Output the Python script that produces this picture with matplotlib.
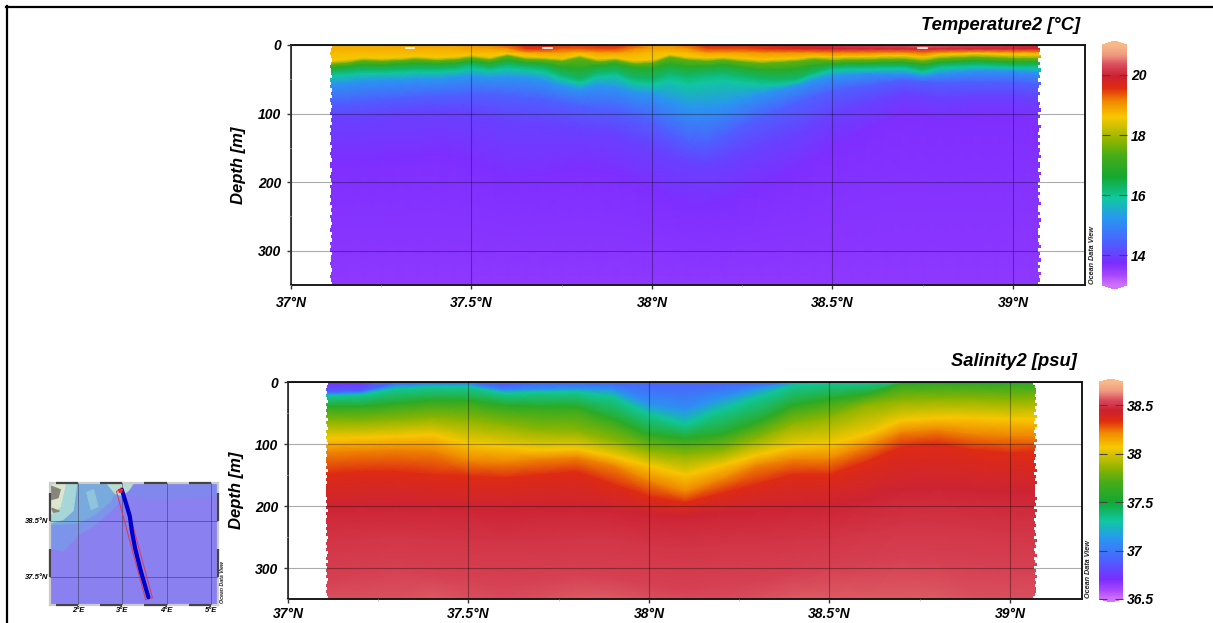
import numpy as np
import matplotlib
matplotlib.use("Agg")
import matplotlib.pyplot as plt
from matplotlib.colors import LinearSegmentedColormap, Normalize
from matplotlib.cm import ScalarMappable
from matplotlib.lines import Line2D
from matplotlib.patches import Polygon

plt.rcParams['font.family'] = ['Liberation Sans', 'DejaVu Sans']
plt.rcParams['font.weight'] = 'bold'
plt.rcParams['font.style'] = 'italic'

W, H = 1213, 623

# temperature section
temp_lats = [37.09, 37.15, 37.2, 37.25, 37.3, 37.35, 37.4, 37.45, 37.5, 37.55, 37.6, 37.65, 37.7, 37.75,
             37.8, 37.85, 37.9, 37.95, 38.0, 38.05, 38.1, 38.15, 38.2, 38.25, 38.3, 38.35, 38.4, 38.45,
             38.5, 38.55, 38.6, 38.65, 38.7, 38.75, 38.8, 38.85, 38.9, 38.95, 39.0, 39.05, 39.1]
temp_0m = [18.8, 18.8, 18.8, 18.8, 18.9, 18.9, 18.9, 18.9, 19.0, 19.1, 19.4, 19.7, 19.8, 19.6,
           19.5, 19.6, 19.7, 19.4, 19.0, 19.0, 19.3, 19.8, 19.8, 19.7, 19.7, 19.8, 19.9, 20.0,
           20.1, 20.2, 20.2, 20.3, 20.3, 20.5, 20.4, 20.3, 20.2, 20.2, 20.1, 20.0, 20.0]
temp_6m = [18.8, 18.8, 18.8, 18.8, 18.8, 18.8, 18.8, 18.8, 18.9, 18.9, 19.0, 19.5, 19.5, 19.3,
           19.3, 19.4, 19.4, 19.1, 18.9, 18.9, 19.0, 19.4, 19.4, 19.4, 19.5, 19.6, 19.7, 19.8,
           19.9, 20.0, 20.0, 20.0, 20.0, 20.0, 20.0, 20.0, 20.0, 20.0, 20.0, 19.9, 19.9]
temp_12m = [18.7, 18.7, 18.7, 18.7, 18.7, 18.7, 18.7, 18.7, 18.7, 18.7, 18.65, 18.8, 18.9, 18.9,
            18.7, 18.9, 18.9, 18.8, 18.7, 18.65, 18.7, 18.9, 18.9, 18.9, 19.0, 19.0, 19.0, 19.0,
            19.1, 19.1, 19.1, 19.0, 19.0, 19.2, 18.9, 18.8, 18.7, 18.75, 18.8, 18.8, 18.8]
temp_350m = 13.55
# depth of each isotherm along the section
temp_levels = [18.6, 17.5, 16.9, 16.2, 15.9, 15.2, 14.4, 14.0, 13.7]
iso_186 = [25, 22, 19, 20, 19, 17, 19, 18, 15, 18, 13, 17, 18, 20, 15, 20, 19, 23, 22, 14, 18,
           19, 18, 20, 22, 21, 20, 17, 18, 17, 17, 16, 16, 18, 15, 14, 13, 14, 15, 15, 15]
iso_175 = [29, 27, 23, 24, 23, 21, 23, 22, 19, 22, 16, 21, 22, 24, 19, 25, 23, 28, 27, 18, 22,
           24, 22, 25, 27, 26, 24, 21, 23, 22, 22, 21, 21, 24, 20, 19, 18, 19, 20, 20, 20]
iso_169 = [34, 32, 29, 30, 28, 27, 28, 27, 24, 27, 22, 26, 27, 32, 34, 30, 28, 33, 34, 28, 32,
           31, 29, 33, 36, 37, 35, 30, 28, 27, 27, 26, 26, 29, 25, 24, 23, 24, 25, 25, 25]
iso_162 = [41, 39, 37, 37, 36, 35, 35, 34, 29, 34, 29, 32, 34, 44, 51, 41, 39, 49, 51, 42, 47,
           43, 42, 46, 50, 52, 50, 40, 33, 32, 32, 31, 31, 36, 30, 29, 28, 29, 30, 30, 30]
iso_159 = [46, 44, 42, 42, 41, 40, 40, 39, 35, 38, 35, 37, 40, 50, 56, 47, 46, 56, 58, 52, 58,
           54, 52, 55, 58, 58, 54, 44, 37, 36, 36, 35, 35, 40, 34, 33, 32, 33, 34, 34, 34]
iso_152 = [58, 56, 53, 52, 52, 50, 50, 48, 46, 48, 47, 48, 52, 60, 65, 60, 62, 70, 72, 82, 92,
           92, 88, 80, 72, 66, 60, 52, 46, 44, 42, 42, 42, 46, 42, 40, 38, 38, 38, 40, 42]
iso_144 = [85, 84, 82, 80, 78, 76, 75, 74, 72, 73, 75, 78, 80, 85, 90, 93, 95, 102, 112, 128, 142,
           145, 132, 118, 105, 95, 85, 76, 68, 63, 60, 55, 52, 54, 55, 55, 55, 55, 55, 57, 60]
iso_140 = [105, 105, 105, 103, 100, 99, 98, 98, 100, 105, 110, 113, 115, 118, 122, 125, 130, 140, 150, 162, 172,
           175, 170, 160, 150, 140, 130, 115, 100, 92, 85, 77, 70, 74, 78, 76, 75, 75, 75, 78, 80]
iso_137 = [170, 170, 170, 168, 165, 162, 160, 165, 170, 182, 195, 192, 190, 185, 180, 185, 190, 200, 215, 225, 235,
           235, 230, 218, 205, 195, 185, 168, 150, 138, 125, 112, 100, 105, 110, 108, 105, 105, 105, 108, 110]

# salinity section
sal_lats = [37.09, 37.2, 37.3, 37.4, 37.5, 37.6, 37.7, 37.8, 37.9, 38.0, 38.1,
            38.2, 38.3, 38.4, 38.5, 38.6, 38.7, 38.8, 38.9, 39.0, 39.1]
sal_0m = [36.7, 36.7, 37.2, 37.35, 37.4, 36.85, 37.1, 37.1, 37.1, 37.0, 36.95,
          37.05, 37.25, 37.5, 37.55, 37.65, 37.75, 37.75, 37.7, 37.7, 37.75]
sal_350m = [38.56, 38.56, 38.56, 38.57, 38.56, 38.55, 38.56, 38.57, 38.57, 38.56, 38.55,
            38.55, 38.56, 38.57, 38.57, 38.57, 38.57, 38.57, 38.56, 38.56, 38.56]
sal_levels = [36.9, 37.1, 37.32, 37.6, 37.85, 38.07, 38.22, 38.35, 38.46, 38.50, 38.53]
hal_369 = [16, 15, 0, 0, 0, 6, 0, 0, 0, 0, 0, 0, 0, 0, 0, 0, 0, 0, 0, 0, 0]
hal_371 = [20, 18, 6, 4, 4, 14, 12, 10, 12, 35, 45, 25, 10, 0, 0, 0, 0, 0, 0, 0, 0]
hal_3732 = [23, 21, 11, 8, 8, 18, 16, 16, 24, 52, 68, 45, 25, 5, 0, 0, 0, 0, 0, 0, 0]
hal_376 = [40, 40, 35, 30, 30, 38, 40, 40, 60, 85, 92, 85, 65, 38, 28, 20, 3, 2, 2, 2, 2]
hal_3785 = [65, 65, 62, 58, 62, 70, 78, 80, 95, 112, 118, 112, 92, 68, 58, 38, 30, 28, 28, 30, 28]
hal_3807 = [92, 90, 88, 85, 100, 105, 110, 108, 120, 135, 150, 135, 118, 105, 100, 85, 62, 58, 58, 60, 60]
hal_3822 = [115, 112, 110, 112, 128, 130, 125, 122, 135, 160, 178, 158, 135, 125, 125, 105, 82, 78, 85, 88, 88]
hal_3835 = [150, 145, 145, 150, 152, 155, 150, 145, 165, 185, 195, 180, 165, 150, 150, 130, 105, 100, 110, 115, 112]
hal_3846 = [205, 202, 200, 202, 205, 208, 205, 205, 208, 215, 218, 212, 208, 205, 200, 190, 175, 170, 175, 178, 178]
hal_3850 = [260, 255, 250, 255, 258, 262, 260, 255, 255, 265, 270, 265, 262, 258, 255, 245, 235, 235, 240, 245, 245]
hal_3853 = [320, 310, 300, 310, 315, 320, 315, 310, 315, 325, 335, 325, 320, 310, 300, 295, 285, 290, 295, 300, 300]

# ragged ends of the sections
left_t = [37.113, 37.11, 37.107, 37.11, 37.113, 37.112, 37.108, 37.112, 37.11, 37.114, 37.109, 37.112,
          37.108, 37.113, 37.11, 37.113, 37.107, 37.112, 37.114, 37.11, 37.108, 37.113, 37.11, 37.113,
          37.109, 37.112, 37.107, 37.112, 37.11, 37.108, 37.113, 37.11, 37.107, 37.112, 37.113, 37.108]
right_t = [39.068, 39.075, 39.073, 39.077, 39.07, 39.075, 39.069, 39.077, 39.071, 39.074, 39.069, 39.077,
           39.072, 39.068, 39.076, 39.07, 39.068, 39.075, 39.071, 39.077, 39.069, 39.074, 39.07, 39.068,
           39.077, 39.072, 39.069, 39.075, 39.07, 39.076, 39.069, 39.074, 39.071, 39.077, 39.07, 39.075]
left_s = [37.11, 37.108, 37.105, 37.109, 37.104, 37.108, 37.11, 37.105, 37.109, 37.104, 37.108, 37.106,
          37.11, 37.104, 37.108, 37.11, 37.105, 37.109, 37.104, 37.107, 37.11, 37.105, 37.108, 37.104,
          37.109, 37.106, 37.104, 37.108, 37.105, 37.11, 37.104, 37.107, 37.104, 37.108, 37.105, 37.106]
right_s = [39.064, 39.07, 39.073, 39.071, 39.068, 39.073, 39.069, 39.074, 39.07, 39.073, 39.067, 39.074,
           39.07, 39.066, 39.074, 39.069, 39.066, 39.072, 39.068, 39.074, 39.067, 39.071, 39.068, 39.066,
           39.073, 39.07, 39.066, 39.072, 39.068, 39.074, 39.067, 39.072, 39.069, 39.074, 39.068, 39.07]

gap_lats = [37.33, 37.71, 38.75]
gap_depth = 4

temp_ticks = [14, 16, 18, 20]
sal_ticks = [36.5, 37, 37.5, 38, 38.5]
sal_labels = ['36.5', '37', '37.5', '38', '38.5']

# small map
map_lons = [2, 3, 4, 5]
map_lats = [37.5, 38.5]
deep_top = ([3.06, 3.6, 5.17, 5.17, 3.25], [38.99, 38.88, 38.95, 39.17, 39.17])
shelf_1 = ([1.37, 1.67, 2.0, 2.38, 2.80, 3.06, 3.25, 1.37], [38.01, 37.96, 38.25, 38.43, 38.72, 38.99, 39.17, 39.17])
shelf_2 = ([1.37, 2.0, 2.38, 2.72, 2.87, 2.96, 1.37], [38.43, 38.46, 38.61, 38.84, 39.05, 39.17, 39.17])
shelf_3 = ([1.37, 1.66, 1.89, 1.93, 1.97, 1.37], [38.46, 38.52, 38.68, 38.91, 39.17, 39.17])
shelf_4 = ([2.2, 2.3, 2.45, 2.35], [39.0, 38.7, 38.75, 39.05])
shelf_5 = ([2.65, 2.85, 3.0, 3.15, 3.25], [39.17, 38.98, 38.95, 39.05, 39.17])
shelf_6 = ([1.37, 1.6, 1.72, 1.37], [38.6, 38.75, 39.17, 39.17])
land_1 = ([1.37, 1.6, 1.55, 1.37], [39.12, 39.05, 38.91, 38.87])
land_2 = ([1.41, 1.58, 1.45], [38.72, 38.67, 38.65])
track_lon = [2.99, 3.08, 3.17, 3.22, 3.29, 3.42, 3.59]
track_lat = [39.05, 38.82, 38.58, 38.30, 38.01, 37.60, 37.14]
box_lon = [2.87, 3.01, 3.68, 3.53, 2.87]
box_lat = [39.02, 39.08, 37.13, 37.09, 39.02]

cmap_points = [(0.0, '#d070ff'), (0.04, '#a848ff'), (0.09, '#7a2cff'), (0.18, '#4c62ff'),
               (0.28, '#2898f0'), (0.36, '#10c8a0'), (0.40, '#10b870'), (0.45, '#14a830'),
               (0.54, '#48ac18'), (0.60, '#8cb400'), (0.70, '#f8c800'), (0.765, '#f08a00'),
               (0.82, '#e02c10'), (0.87, '#cc2030'), (0.917, '#d84a5c'), (0.96, '#ee9a80'),
               (1.0, '#f8b888')]
odv = LinearSegmentedColormap.from_list('odv', cmap_points, N=512)
odv.set_under('#d070ff')
odv.set_over('#f8b888')

fig = plt.figure(figsize=(W / 100, H / 100), dpi=100)


def px_axes(left, top, right, bottom):
    return fig.add_axes([left / W, 1 - bottom / H, (right - left) / W, (bottom - top) / H])


def section(box, cbox, ext, lats, rows_y, rows_c, norm, ticks, labels, title, title_xy, label_x, odv_xy,
            left, right, pad):
    ax = px_axes(*box)
    X = np.tile(lats, (len(rows_y), 1))
    mesh = ax.pcolormesh(X, np.array(rows_y, float), np.array(rows_c, float), cmap=odv, norm=norm,
                         shading='gouraud', zorder=1)
    # edges repeated back up the section so the steps stay small
    xl = left + left[::-1]
    xr = right + right[::-1]
    step = 350 / len(xl)
    ys = [v for i in range(len(xl)) for v in (i * step, (i + 1) * step)]
    xl = [v for v in xl for _ in (0, 1)]
    xr = [v for v in xr for _ in (0, 1)]
    clip = Polygon(list(zip(xl + xr[::-1], ys + ys[::-1])), transform=ax.transData)
    mesh.set_clip_path(clip)
    ax.set_xlim(37, 37 + (box[2] - box[0]) / 361)
    ax.set_ylim(350, 0)
    ax.set_xticks([37, 37.5, 38, 38.5, 39])
    ax.set_xticklabels(['37°N', '37.5°N', '38°N', '38.5°N', '39°N'], fontsize=10)
    ax.set_xticks([37.25, 37.75, 38.25, 38.75], minor=True)
    ax.set_yticks([0, 100, 200, 300])
    ax.set_yticks([50, 150, 250, 350], minor=True)
    ax.tick_params(axis='y', labelsize=10, length=3, width=1, pad=4, color='#333333')
    ax.tick_params(axis='x', length=3, width=1, pad=pad, color='#333333')
    ax.tick_params(which='minor', length=1.5, width=0.5, color='#bbbbbb')
    ax.grid(True, color='black', alpha=0.33, lw=0.8, zorder=2)
    ax.set_axisbelow(False)
    for s in ax.spines.values():
        s.set_linewidth(1.4)
        s.set_color('#1a1a1a')
    ax.spines['left'].set_color('#444444')

    fig.text(title_xy[0] / W, 1 - title_xy[1] / H, title, ha='right', va='center', fontsize=13.2)
    fig.text(label_x / W, 1 - (box[1] + box[3]) / 2 / H, 'Depth [m]', rotation=90,
             ha='center', va='center', fontsize=12)
    fig.text(odv_xy[0] / W, 1 - odv_xy[1] / H, 'Ocean Data View', rotation=90, ha='center',
             va='bottom', fontsize=5.2, color='#222222')

    cax = px_axes(*cbox)
    cb = fig.colorbar(ScalarMappable(norm=norm, cmap=odv), cax=cax, extend='both', extendfrac=ext,
                      drawedges=False)
    cb.outline.set_visible(False)
    cb.set_ticks(ticks)
    cb.set_ticklabels(labels)
    cb.ax.tick_params(direction='in', left=True, right=True, length=5.5, width=0.8,
                      color='#444444', labelsize=10, pad=3)
    cb.ax.minorticks_off()
    return ax


n_t = len(temp_lats)
temp_y = [[0] * n_t, [6] * n_t, [12] * n_t, iso_186, iso_175, iso_169, iso_162, iso_159, iso_152, iso_144,
          iso_140, iso_137, [350] * n_t]
temp_c = [temp_0m, temp_6m, temp_12m] + [[v] * n_t for v in temp_levels] + [[temp_350m] * n_t]
ax_t = section((291, 45, 1085, 285), (1102, 41, 1127, 289), 4 / 240, temp_lats, temp_y, temp_c,
               Normalize(13, 21), temp_ticks, [str(t) for t in temp_ticks], 'Temperature2 [°C]',
               (1080, 25), 238, (1093, 284), left_t, right_t, 5)
for g in gap_lats:
    ax_t.plot([g - 0.012, g + 0.012], [gap_depth, gap_depth], color='white', lw=1.2, zorder=3)

n_s = len(sal_lats)
sal_y = [[0] * n_s, hal_369, hal_371, hal_3732, hal_376, hal_3785, hal_3807, hal_3822, hal_3835, hal_3846,
         hal_3850, hal_3853, [350] * n_s]
sal_c = [sal_0m] + [[v] * n_s for v in sal_levels] + [sal_350m]
section((288, 382, 1082, 599), (1099, 379, 1123, 602), 3 / 217, sal_lats, sal_y, sal_c,
        Normalize(36.5, 38.74), sal_ticks, sal_labels, 'Salinity2 [psu]', (1077, 362), 237, (1089, 598),
        left_s, right_s, 3)

# small map
m = px_axes(50, 483, 218, 605)
m.set_facecolor('#8b80f0')
m.fill(*deep_top, color='#8088ee', zorder=0.9)
m.fill(*shelf_1, color='#7c95ea', zorder=1)
m.fill(*shelf_2, color='#78aade', zorder=1.1)
m.fill(*shelf_3, color='#a6d6d8', zorder=1.2)
m.fill(*shelf_4, color='#90c4dc', zorder=1.2)
m.fill(*shelf_5, color='#b8dcd0', zorder=1.2)
m.fill(*shelf_6, color='#dce6cc', zorder=1.3)
m.fill(*land_1, color='#85857c', zorder=1.4)
m.fill(*land_2, color='#85857c', zorder=1.4)
m.set_xlim(1.37, 5.16)
m.set_ylim(37.0, 39.17)
m.set_xticks(map_lons)
m.set_xticklabels(['%d°E' % v for v in map_lons], fontsize=5.5)
m.set_yticks(map_lats)
m.set_yticklabels(['%.1f°N' % v for v in map_lats], fontsize=5.5)
m.tick_params(length=0, pad=1.5)
m.grid(True, color='#333344', lw=0.6, alpha=0.6, zorder=2)
m.set_axisbelow(False)
m.plot(box_lon, box_lat, color='#e03848', lw=0.7, zorder=3)
m.plot(track_lon, track_lat, color='#0000cc', lw=3, solid_capstyle='round', zorder=4)
m.scatter([2.94], [39.05], s=10, color='#f02030', marker='*', zorder=5)
for s in m.spines.values():
    s.set_linewidth(1.6)
    s.set_color('#cccccc')
edge = dict(color='#444444', lw=1.6, clip_on=False, zorder=6, solid_capstyle='butt')
for a, b in [(1.5, 2), (2.5, 3), (3.5, 4), (4.5, 5)]:
    m.plot([a, b], [39.17, 39.17], **edge)
    m.plot([a, b], [37.0, 37.0], **edge)
for a, b in [(37.5, 38.0), (38.5, 39.0)]:
    m.plot([1.37, 1.37], [a, b], **edge)
    m.plot([5.16, 5.16], [a, b], **edge)
fig.text(222 / W, 1 - 603 / H, 'Ocean Data View', rotation=90, ha='center', va='bottom',
         fontsize=3.8, color='#222222')

# outer frame
fig.add_artist(Line2D([6 / W, 1], [1 - 6.7 / H, 1 - 6.7 / H], color='black', lw=1.6))
fig.add_artist(Line2D([6.7 / W, 6.7 / W], [0, 1 - 6 / H], color='black', lw=1.6))

fig.savefig('out.png', dpi=100)
